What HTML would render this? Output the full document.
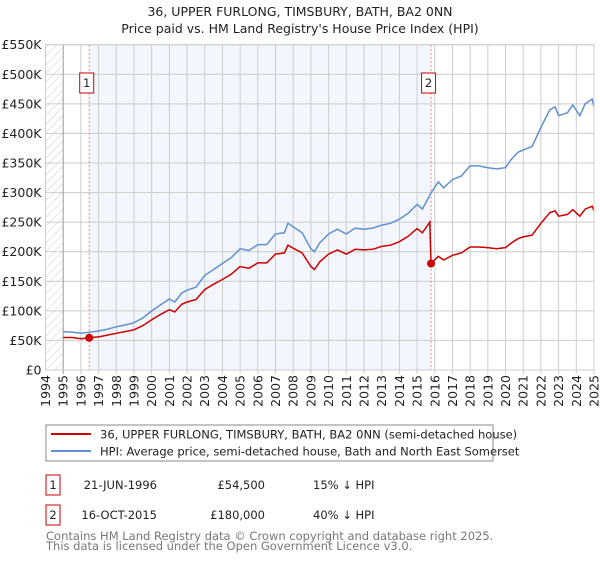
<!DOCTYPE html>
<html><head><meta charset="utf-8"><style>
body{margin:0;background:#fff;width:600px;height:560px;overflow:hidden;font-family:"Liberation Sans","DejaVu Sans",sans-serif}
svg text{font-family:"DejaVu Sans","Liberation Sans",sans-serif}
</style></head><body>
<svg id="c" width="600" height="560" xmlns="http://www.w3.org/2000/svg">
<defs><pattern id="hatch" width="6" height="6" patternUnits="userSpaceOnUse" patternTransform="rotate(45)"><line x1="0" y1="0" x2="0" y2="6" stroke="#ccc" stroke-width="1"/></pattern></defs>
<text x="300" y="16" text-anchor="middle" font-size="12.5" fill="#222">36, UPPER FURLONG, TIMSBURY, BATH, BA2 0NN</text>
<text x="300" y="33" text-anchor="middle" font-size="12.5" fill="#222">Price paid vs. HM Land Registry's House Price Index (HPI)</text>
<g id="plot"></g>
<g>
<rect x="46" y="425" width="447" height="36" fill="#fff" stroke="#888"/>
<line x1="51" y1="434" x2="91" y2="434" stroke="#cc0000" stroke-width="2"/>
<text x="100" y="438.5" font-size="11.5" fill="#222">36, UPPER FURLONG, TIMSBURY, BATH, BA2 0NN (semi-detached house)</text>
<line x1="51" y1="451" x2="91" y2="451" stroke="#6090d0" stroke-width="2"/>
<text x="100" y="455.5" font-size="11.5" fill="#222">HPI: Average price, semi-detached house, Bath and North East Somerset</text>
</g>
<g font-size="11.5" fill="#222">
<rect x="46" y="475" width="14" height="20" fill="#fff" stroke="#cc0000"/>
<text x="53" y="489" text-anchor="middle">1</text>
<text x="157" y="489" text-anchor="end">21-JUN-1996</text>
<text x="265" y="489" text-anchor="end">£54,500</text>
<text x="313" y="489">15% ↓ HPI</text>
<rect x="46" y="505" width="14" height="20" fill="#fff" stroke="#cc0000"/>
<text x="53" y="519" text-anchor="middle">2</text>
<text x="157" y="519" text-anchor="end">16-OCT-2015</text>
<text x="265" y="519" text-anchor="end">£180,000</text>
<text x="313" y="519">40% ↓ HPI</text>
</g>
<text x="46" y="540" font-size="11.5" fill="#777">Contains HM Land Registry data © Crown copyright and database right 2025.</text>
<text x="46" y="550" font-size="11.5" fill="#777">This data is licensed under the Open Government Licence v3.0.</text>
</svg>
<script>
const hpiYears=[1995,1995.5,1996,1996.5,1997,1997.5,1998,1998.5,1999,1999.5,2000,2000.5,2001,2001.3,2001.7,2002,2002.5,2003,2003.5,2004,2004.5,2005,2005.5,2006,2006.5,2007,2007.5,2007.7,2008,2008.5,2009,2009.2,2009.5,2010,2010.5,2011,2011.5,2012,2012.5,2013,2013.5,2014,2014.5,2015,2015.3,2015.8,2016.2,2016.5,2017,2017.5,2018,2018.5,2019,2019.5,2020,2020.3,2020.7,2021,2021.5,2022,2022.5,2022.8,2023,2023.5,2023.8,2024.2,2024.5,2024.9,2025];
const hpiValues=[65,64,62,64,66,69,73,76,80,88,100,110,120,115,130,135,140,160,170,180,190,205,202,212,212,230,232,248,242,232,205,200,215,230,238,230,240,238,240,245,248,255,265,280,272,300,318,308,322,328,345,345,342,340,342,355,368,372,378,410,440,445,430,435,448,430,450,458,445];
const priceYears=[1995,1995.5,1996,1996.47,1997,1997.5,1998,1998.5,1999,1999.5,2000,2000.5,2001,2001.3,2001.7,2002,2002.5,2003,2003.5,2004,2004.5,2005,2005.5,2006,2006.5,2007,2007.5,2007.7,2008,2008.5,2009,2009.2,2009.5,2010,2010.5,2011,2011.5,2012,2012.5,2013,2013.5,2014,2014.5,2015,2015.3,2015.72,2015.79,2016.2,2016.5,2017,2017.5,2018,2018.5,2019,2019.5,2020,2020.3,2020.7,2021,2021.5,2022,2022.5,2022.8,2023,2023.5,2023.8,2024.2,2024.5,2024.9,2025];
const priceValues=[55,55,53,54.5,56,59,62,65,68,75,85,94,102,98,111,115,119,136,145,153,162,175,172,181,181,196,198,211,206,198,175,170,183,196,203,196,204,203,204,209,211,217,226,239,232,250,180,192,186,194,198,208,208,207,205,207,214,222,225,228,248,266,269,260,263,271,260,272,277,269];
const saleYears=[1996.47,2015.79];
const saleValues=[54.5,180];
const saleLabels=["1","2"];
const yTicks=[0,50,100,150,200,250,300,350,400,450,500,550];
const yTickLabels=["£0","£50K","£100K","£150K","£200K","£250K","£300K","£350K","£400K","£450K","£500K","£550K"];
const xTicks=[1994,1995,1996,1997,1998,1999,2000,2001,2002,2003,2004,2005,2006,2007,2008,2009,2010,2011,2012,2013,2014,2015,2016,2017,2018,2019,2020,2021,2022,2023,2024,2025];

const X0=45.5,X1=594,Y0=370,Y1=44.7;
const xs=y=>X0+(y-1994)/(2025-1994)*(X1-X0);
const ys=v=>Y0-(v/550)*(Y0-Y1);
const NS="http://www.w3.org/2000/svg";
const g=document.getElementById('plot');
function mk(t,a){const e=document.createElementNS(NS,t);for(const k in a)e.setAttribute(k,a[k]);g.appendChild(e);return e;}
let e;
e=mk('rect',{x:X0,y:Y1,width:xs(1995)-X0,height:Y0-Y1,fill:'url(#hatch)'});


e=mk('rect',{x:xs(saleYears[0]),y:Y1,width:xs(saleYears[1])-xs(saleYears[0]),height:Y0-Y1,fill:'#eef3fc',opacity:0.7});


yTicks.forEach((t,i)=>{
 e=mk('line',{x1:X0,x2:X1,y1:ys(t),y2:ys(t),stroke:'#ccc','stroke-width':1});
 
 
 e=mk('text',{x:X0-4,y:ys(t)+4.5,'text-anchor':'end','font-size':12.5,fill:'#222'});
 e.textContent=yTickLabels[i];
 
 
});
xTicks.forEach(t=>{
 e=mk('line',{x1:xs(t),x2:xs(t),y1:Y1,y2:Y0+(t>=1995?4:0),stroke:t==1995?'#999':'#ccc','stroke-width':1});
 
 
 e=mk('text',{x:0,y:0,'text-anchor':'end','font-size':12.5,fill:'#222',transform:`translate(${xs(t)+4.5},${Y0+5}) rotate(-90)`});
 e.textContent=String(t);
 
 
});
saleYears.forEach((s,i)=>{
 e=mk('line',{x1:xs(s),x2:xs(s),y1:Y1,y2:Y0,stroke:'#f08080','stroke-width':1,'stroke-dasharray':'2,2'});
 
 
 e=mk('rect',{x:xs(s)-9.5,y:73,width:14,height:20,fill:'#fff',stroke:'#cc0000'});
 
 
 e=mk('text',{x:xs(s)-2.5,y:87,'text-anchor':'middle','font-size':11.5,fill:'#222'});
 e.textContent=saleLabels[i];
 
 
});
function pts(xa,va){return xa.map((x,i)=>xs(x).toFixed(1)+','+ys(va[i]).toFixed(1)).join(' ');}
e=mk('polyline',{points:pts(hpiYears,hpiValues),fill:'none',stroke:'#6090d0','stroke-width':1.5});


e=mk('polyline',{points:pts(priceYears,priceValues),fill:'none',stroke:'#cc0000','stroke-width':1.5});


saleYears.forEach((s,i)=>{
 e=mk('circle',{cx:xs(s),cy:ys(saleValues[i]),r:4,fill:'#cc0000'});
 
 
});
e=mk('rect',{x:X0,y:Y1,width:X1-X0,height:Y0-Y1,fill:'none',stroke:'#ccc'});


</script>
</body></html>
